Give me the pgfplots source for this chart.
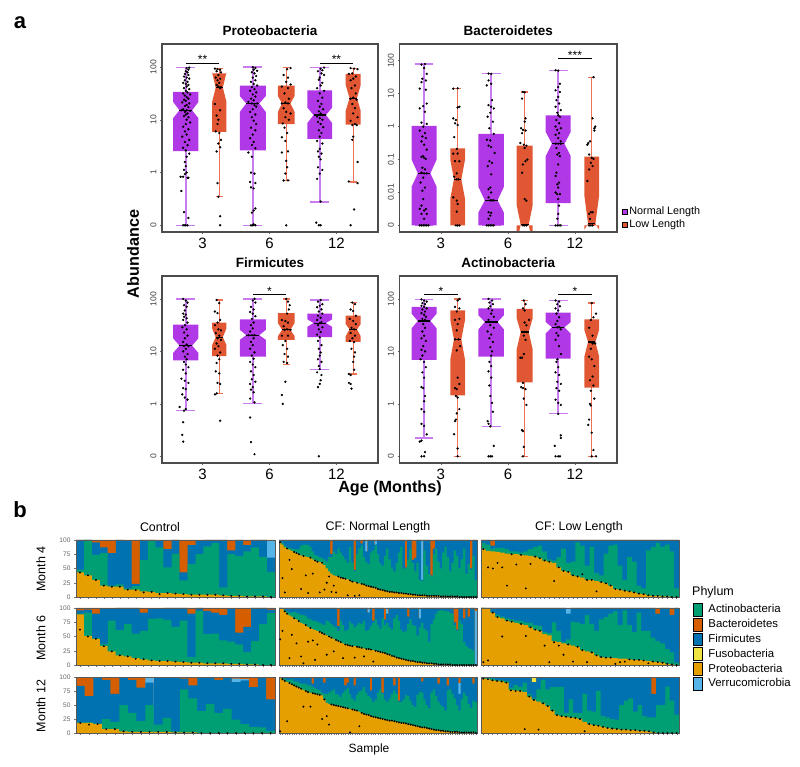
\documentclass[border=0pt]{standalone}
\usepackage{fontspec}
\setmainfont{Liberation Sans}
\usepackage{pgfplots}
\usepackage{pgfplotstable}
\pgfplotsset{compat=1.18}
\definecolor{cP}{HTML}{B138E6}
\definecolor{cO}{HTML}{E15733}
\definecolor{cPw}{HTML}{C97CEF}
\definecolor{cOw}{HTML}{EE7255}
\definecolor{pA}{HTML}{009E73}
\definecolor{pB}{HTML}{D55E00}
\definecolor{pF}{HTML}{0072B2}
\definecolor{pY}{HTML}{F0E442}
\definecolor{pP}{HTML}{E69F00}
\definecolor{pV}{HTML}{56B4E9}
\newcommand\fs[1]{\fontsize{#1}{#1}\selectfont}

% makes a notched box command: name, fill, whisker colour, cap half width, whisker width
% the command takes x, half width, q1, notch low, median, notch high, q3, whisker low, whisker high
\newcommand\mkbox[5]{\expandafter\newcommand\csname #1\endcsname[9]{%
  \pgfmathsetmacro\xL{##1-##2}\pgfmathsetmacro\xR{##1+##2}%
  \pgfmathsetmacro\xl{##1-##2/2}\pgfmathsetmacro\xr{##1+##2/2}%
  \pgfmathsetmacro\cL{##1-#4}\pgfmathsetmacro\cR{##1+#4}%
  \addplot[#3,line width=#5] coordinates {(##1,##8)(##1,##9)};
  \addplot[#3,line width=1.3] coordinates {(\cL,##8)(\cR,##8)};
  \addplot[#3,line width=1.3] coordinates {(\cL,##9)(\cR,##9)};
  \addplot[fill=#2,draw=none] coordinates {(\xL,##7)(\xR,##7)(\xR,##6)(\xr,##5)(\xR,##4)(\xR,##3)(\xL,##3)(\xL,##4)(\xl,##5)(\xL,##6)} --cycle;
  \addplot[black,line width=1.1] coordinates {(\xl,##5)(\xr,##5)};
}}
\mkbox{nbP}{cP}{cPw}{0.14}{2}
\mkbox{nbO}{cO}{cOw}{0.055}{1.3}
\newcommand\sig[4]{\addplot[black,line width=0.6] coordinates {(#1,#3)(#2,#3)} node[pos=0.5,anchor=base,inner sep=0pt,yshift=-1pt,font=\fs{12}] {#4};}
% points were read a little tight around each box centre, so widen the jitter by 1.3
\newcommand\pts[1]{\addplot[only marks,mark=*,mark size=0.95,black,
  x filter/.expression={round(2*(x-.75))/2+.75+1.3*(x-round(2*(x-.75))/2-.75)}] coordinates {#1};}

\pgfplotsset{
  boxax/.style={scale only axis,width=216pt,height=188pt,axis on top,
    xmin=0.395,xmax=3.62,ymin=-1.127,ymax=2.437,
    xtick={1,2,3},xticklabels={3,6,12},
    ytick={-1,0,1,2},yticklabels={0,1,10,100},
    xticklabel style={font=\fs{15}},
    yticklabel style={font=\fs{8.6},rotate=90,anchor=south,text=black!75},
    tick style={black!60,line width=0.5},major tick length=2pt,tick align=outside,
    xtick pos=bottom,ytick pos=left,
    axis line style={black!70,line width=1.1},
    title style={font=\bfseries\fs{13.5},yshift=-1pt}},
  barax/.style={scale only axis,width=198pt,height=57pt,axis on top,
    xmin=0.5,xmax=#1.5,ymin=0,ymax=100,
    xtick={1,...,#1},xticklabels=\empty,
    ytick={0,25,50,75,100},yticklabels={0,25,50,75,100},
    yticklabel style={font=\fs{6.6},text=black!60},
    tick style={black!55,line width=0.4},major tick length=2pt,tick align=outside,
    xtick pos=bottom,ytick pos=left,
    axis line style={black!65,line width=0.9}},
  noy/.style={ytick=\empty},
  lay/.style={ybar,bar shift=0pt,bar width=0.97,draw=none,fill=#1}
}

% every table: dot position, then cumulative tops of proteobacteria, actinobacteria, firmicutes
\pgfplotstableread{
d p a f
43 43 48 100
38 38 100 100
30 30 74 96
20 20 77 87
18 18 20 77
18 18 22 100
13 13 15 98
12 13 19 23
8 10 65 100
9 9 98 100
5 7 87 99
7 7 52 84
6 6 76 100
5 5 29 43
4 4 58 91
4 4 75 98
4 4 89 100
4 4 95 100
3 3 17 100
2 2 75 82
2 2 72 100
1 1 80 91
1 1 87 100
1 1 70 100
0 0 44 69
}\CtrlA
\pgfplotstableread{
d p a f
62 89 90 96
50 51 92 97
46 46 47 90
33 33 37 98
24 24 78 98
17 17 61 100
15 15 72 100
11 12 55 100
10 10 60 92
8 8 81 98
7 7 82 99
7 7 79 100
6 6 67 100
5 5 78 100
4 4 14 90
4 4 95 100
3 3 54 95
3 3 55 92
3 3 43 88
2 2 41 98
2 2 36 57
1 1 23 67
1 1 42 100
0 0 72 100
0 0 91 97
}\CtrlB
\pgfplotstableread{
d p a f
18 18 19 84
15 18 19 66
16 16 17 99
7 7 25 95
7 7 20 70
3 3 50 100
2 2 36 95
2 2 21 81
2 2 50 90
2 2 15 100
2 2 27 100
1 1 3 100
1 1 78 97
1 1 62 85
0 0 39 100
0 0 52 100
0 0 36 95
0 0 43 100
0 0 24 91
0 0 16 94
0 0 11 82
0 0 10 100
0 0 4 60
}\CtrlC
\pgfplotstableread{
d p a f
96 96 97 100
33 92 95 100
8 87 90 100
85 85 88 100
65 83 86 100
49 81 85 100
79 79 84 100
77 77 83 100
75 75 84 100
14 73 90 100
72 72 92 100
38 71 92 100
7 70 91 100
69 69 88 100
41 66 80 100
64 64 74 100
62 62 72 100
8 61 70 100
60 60 68 100
13 56 66 100
25 50 62 100
36 45 70 100
9 41 70 75
20 38 80 100
8 37 75 100
36 36 85 100
34 34 78 100
33 33 72 100
32 32 66 100
3 31 60 100
29 29 88 100
27 27 60 100
2 26 45 47
25 25 75 100
3 24 85 100
23 23 90 94
22 22 70 100
20 20 62 80
19 19 58 100
18 18 78 100
17 17 82 100
16 16 90 92
14 14 75 100
13 13 60 100
12 12 55 100
11 11 72 100
10 10 85 100
9 9 66 100
9 9 52 100
8 8 45 100
8 8 60 100
7 7 78 100
7 7 88 100
6 6 50 100
6 6 50 52
5 5 66 100
5 5 85 100
4 4 60 65
4 4 45 68
3 3 60 100
3 3 30 100
3 3 28 30
3 3 82 100
2 2 55 100
2 2 40 100
2 2 36 38
2 2 75 85
2 2 85 100
2 2 62 100
1 1 50 100
1 1 78 100
1 1 88 100
1 1 70 100
1 1 45 100
1 1 60 100
1 1 82 100
1 1 72 100
0 0 50 100
0 0 66 100
0 0 85 100
0 0 40 100
0 0 58 100
0 0 48 50
0 0 72 100
0 0 30 100
}\NormA
\pgfplotstableread{
d p a f
45 100 100 100
60 98 99 100
94 94 97 100
90 90 94 100
12 87 92 100
53 85 92 100
82 82 93 100
38 80 92 100
77 77 90 100
15 74 88 100
3 72 88 100
70 70 86 100
41 67 82 100
65 65 80 100
43 63 78 100
9 61 78 100
36 60 76 100
58 58 74 100
56 56 72 100
54 54 70 100
18 52 78 100
50 50 76 100
48 48 72 100
24 46 68 100
44 44 66 100
42 42 60 68
40 40 78 100
12 38 70 100
36 36 60 100
35 35 62 100
34 34 76 100
33 33 72 100
13 33 66 100
32 32 70 100
31 31 74 100
30 30 72 100
15 29 78 100
28 28 60 100
28 28 62 92
27 27 68 100
6 26 74 78
25 25 80 100
24 24 70 100
23 23 64 100
22 22 82 100
21 21 70 80
19 19 74 90
18 18 66 100
16 16 62 100
15 15 82 100
13 13 88 100
12 12 78 100
11 11 62 100
10 10 58 100
9 9 60 100
8 8 72 85
7 7 80 100
7 7 70 100
6 6 68 100
5 5 52 100
5 5 66 82
4 4 74 100
4 4 64 100
3 3 60 100
3 3 40 100
3 3 72 100
2 2 80 100
2 2 90 100
1 1 95 100
1 1 96 100
1 1 96 100
1 1 95 100
1 1 94 100
1 1 92 100
0 0 90 100
0 0 70 75
0 0 60 62
0 0 78 100
0 0 72 100
0 0 40 82
0 0 33 100
0 0 30 85
0 0 28 100
0 0 25 100
0 0 0 0
}\NormB
\pgfplotstableread{
d p a f
3 98 99 100
96 96 98 100
93 93 97 100
21 91 95 100
89 89 95 100
87 87 96 100
85 85 92 100
83 83 92 100
81 81 90 100
79 79 88 100
47 77 88 100
75 75 88 100
73 73 85 100
47 72 85 100
71 71 82 88
70 70 80 100
69 69 78 100
68 68 76 100
25 67 72 100
60 60 70 90
30 54 70 100
15 52 72 100
51 51 75 100
50 50 78 100
49 49 70 100
48 48 68 100
47 47 64 100
46 46 72 100
45 45 76 85
44 44 80 90
1 43 70 100
42 42 62 100
41 41 58 85
40 40 68 100
12 38 74 100
36 36 76 100
34 34 82 100
33 33 72 100
32 32 66 100
30 30 62 76
29 29 55 100
28 28 60 100
27 27 72 100
26 26 78 100
25 25 70 72
24 24 60 100
23 23 56 100
22 22 62 100
22 22 70 100
21 21 76 85
20 20 70 100
19 19 55 58
18 18 55 100
18 18 60 100
17 17 68 100
16 16 66 100
15 15 58 100
14 14 50 100
13 13 46 100
12 12 68 100
11 11 74 100
10 10 72 92
10 10 60 100
9 9 50 100
8 8 44 100
7 7 72 100
6 6 78 100
5 5 66 100
5 5 56 88
4 4 50 100
4 4 46 100
3 3 40 100
3 3 76 85
2 2 78 100
2 2 70 100
2 2 62 100
2 2 50 100
1 1 40 70
1 1 60 100
1 1 72 100
1 1 66 100
1 1 52 100
1 1 45 100
1 1 58 88
0 0 55 100
}\NormC
\pgfplotstableread{
d p a f
84 84 95 100
52 81 92 100
50 80 85 90
60 79 86 100
52 78 86 100
20 76 84 100
75 75 80 100
57 75 80 100
74 74 78 100
15 73 80 100
58 72 84 100
71 71 88 100
68 68 90 100
64 64 80 100
62 62 66 100
28 60 64 100
52 52 70 100
46 46 85 100
44 44 60 100
38 38 62 100
36 36 96 100
40 34 90 100
30 30 55 100
30 30 88 100
10 28 42 100
26 26 38 100
24 24 76 100
20 20 90 100
14 14 92 100
13 13 55 100
11 11 30 100
10 10 70 100
8 8 62 100
6 6 20 100
5 5 15 100
3 3 82 100
2 2 88 100
2 2 95 100
1 1 88 100
1 1 92 100
0 0 80 100
0 0 15 100
}\LowA
\pgfplotstableread{
d p a f
5 100 100 100
8 98 98 100
92 92 92 100
84 84 88 100
50 82 85 100
78 78 82 100
76 76 80 100
5 74 78 100
72 72 78 100
51 70 75 100
66 66 74 100
62 62 70 100
60 60 68 100
34 54 58 100
5 52 56 100
40 42 75 100
34 40 60 100
18 38 40 100
36 36 45 90
6 34 76 100
32 32 75 100
26 26 72 100
5 24 88 100
22 22 72 100
17 17 60 100
14 14 80 100
13 13 84 100
13 13 90 100
2 12 94 100
5 11 70 100
6 11 96 100
10 10 70 100
9 9 58 100
9 9 92 100
8 8 60 100
3 7 60 100
6 6 48 100
5 5 42 90
4 4 38 100
2 2 28 100
1 1 22 88
0 0 4 100
}\LowB
\pgfplotstableread{
d p a f
97 97 99 100
96 96 98 100
94 94 97 100
93 93 95 100
92 92 94 100
90 90 93 100
76 77 80 100
75 76 86 100
75 75 82 100
7 73 90 100
65 65 70 100
59 59 62 91
6 56 78 100
53 53 95 100
48 48 78 100
40 40 82 100
32 32 82 100
30 30 82 100
29 29 36 100
28 28 60 100
27 27 36 100
25 25 36 100
3 20 70 100
16 16 40 100
14 14 38 100
13 13 75 100
11 11 30 100
9 9 28 100
8 8 25 100
7 7 24 100
6 6 50 100
6 6 58 100
5 5 62 100
5 5 38 100
4 4 50 100
4 4 30 100
3 3 28 100
1 1 28 70
0 0 50 100
0 0 50 100
0 0 83 100
0 0 58 100
0 0 33 100
}\LowC

% position, number of bars, table, extra layers, axis options
\newcommand\barpanel[5]{%
\begin{axis}[barax={#2},at={#1},anchor=south west,#5]
  \addplot[lay=pB] table[x expr=\coordindex+1,y expr=100] {#3};
  #4
  \addplot[lay=pF] table[x expr=\coordindex+1,y=f] {#3};
  \addplot[lay=pA] table[x expr=\coordindex+1,y=a] {#3};
  \addplot[lay=pP] table[x expr=\coordindex+1,y=p] {#3};
  \addplot[only marks,mark=*,mark size=0.75,black] table[x expr=\coordindex+1,y=d] {#3};
\end{axis}}
\newcommand\V[1]{\addplot[lay=pV] coordinates {#1};}
\newcommand\Y[1]{\addplot[lay=pY] coordinates {#1};}

\begin{document}
\begin{tikzpicture}[x=1pt,y=1pt]
\path[use as bounding box] (0,0) rectangle (800,766);

\begin{axis}[boxax,at={(162pt,534pt)},anchor=south west,title={Proteobacteria}]
\nbP{0.75}{0.189}{0.405}{1.03}{1.18}{1.34}{1.53}{-1}{1.99}
\nbO{1.25}{0.107}{0.77}{1.34}{1.61}{1.90}{1.88}{-0.46}{1.97}
\nbP{1.75}{0.194}{0.42}{1.15}{1.31}{1.45}{1.65}{-1}{2}
\nbO{2.25}{0.124}{0.92}{1.15}{1.31}{1.45}{1.65}{-0.15}{1.99}
\nbP{2.75}{0.184}{0.64}{0.94}{1.09}{1.23}{1.56}{-0.56}{1.99}
\nbO{3.25}{0.112}{0.91}{1.17}{1.41}{1.66}{1.87}{-0.18}{1.97}
\sig{0.75}{1.25}{2.08}{**}
\sig{2.75}{3.25}{2.08}{**}
\pts{(.79,1.99)(.76,1.98)(.78,1.95)(.75,1.92)(.77,1.9)(.74,1.87)(.78,1.85)(.73,1.82)(.76,1.8)(.79,1.78)(.74,1.75)(.77,1.72)(.72,1.7)(.75,1.68)(.78,1.66)(.76,1.63)(.73,1.6)(.79,1.58)(.75,1.55)(.77,1.52)(.72,1.5)(.8,1.48)(.74,1.46)(.76,1.43)(.78,1.4)(.73,1.38)(.75,1.36)(.71,1.33)(.79,1.31)(.76,1.28)(.74,1.26)(.78,1.24)(.72,1.2)(.76,1.18)(.8,1.17)(.74,1.15)(.7,1.18)(.77,1.12)(.75,1.1)(.73,1.07)(.78,1.05)(.76,1.0)(.8,.95)(.75,.92)(.72,.87)(.78,.82)(.74,.78)(.76,.72)(.71,.68)(.79,.62)(.74,.58)(.77,.52)(.72,.47)(.75,.42)(.79,.36)(.76,.3)(.74,.2)(.75,.12)(.73,.05)(.76,0)(.74,-.03)(.72,-.08)(.77,-.1)(.69,-.08)(.78,-.1)(.7,-.35)(.73,-.75)(.78,-.86)(.72,-1)(.74,-1)(.75,-1)(.77,-1)
(1.2,1.97)(1.23,1.96)(1.26,1.95)(1.22,1.92)(1.27,1.9)(1.24,1.85)(1.21,1.8)(1.26,1.78)(1.23,1.75)(1.25,1.7)(1.22,1.66)(1.24,1.63)(1.27,1.62)(1.26,1.6)(1.2,1.3)(1.26,1.18)(1.22,1.08)(1.24,1.0)(1.23,.92)(1.21,.78)(1.25,.75)(1.27,.62)(1.24,.55)(1.26,.48)(1.22,.4)(1.23,-.2)(1.24,-.46)(1.26,-.83)(1.26,-1)
(1.75,2)(1.78,1.98)(1.76,1.95)(1.8,1.93)(1.74,1.9)(1.77,1.88)(1.79,1.83)(1.75,1.8)(1.78,1.75)(1.73,1.72)(1.76,1.68)(1.8,1.65)(1.74,1.62)(1.77,1.58)(1.72,1.55)(1.79,1.52)(1.75,1.48)(1.78,1.44)(1.73,1.4)(1.76,1.37)(1.7,1.34)(1.74,1.31)(1.8,1.31)(1.77,1.28)(1.79,1.25)(1.75,1.2)(1.72,1.15)(1.78,1.1)(1.74,1.05)(1.76,.98)(1.79,.92)(1.73,.85)(1.78,.8)(1.75,.72)(1.72,.65)(1.76,.58)(1.74,.52)(1.78,.46)(1.7,.38)(1.74,.3)(1.73,0)(1.77,-.02)(1.72,-.18)(1.78,-.2)(1.73,-.28)(1.76,-.3)(1.78,-.68)(1.76,-.72)(1.74,-.76)(1.73,-1)(1.75,-1)(1.76,-.98)(1.78,-1)
(2.3,1.98)(2.26,1.96)(2.22,1.85)(2.27,1.8)(2.25,1.72)(2.3,1.67)(2.2,1.63)(2.27,1.6)(2.23,1.5)(2.28,1.4)(2.24,1.33)(2.2,1.31)(2.27,1.31)(2.22,1.22)(2.25,1.15)(2.3,1.12)(2.24,1.05)(2.28,1.0)(2.21,.93)(2.23,.85)(2.26,.75)(2.2,.67)(2.24,.6)(2.27,.4)(2.2,.38)(2.25,.22)(2.26,.1)(2.24,-.02)(2.27,-.15)(2.22,-.15)(2.25,-1)
(2.8,1.99)(2.76,1.97)(2.78,1.94)(2.73,1.92)(2.77,1.88)(2.8,1.85)(2.75,1.8)(2.74,1.76)(2.78,1.7)(2.76,1.65)(2.72,1.6)(2.8,1.55)(2.75,1.5)(2.78,1.42)(2.73,1.36)(2.77,1.3)(2.75,1.25)(2.79,1.2)(2.74,1.16)(2.76,1.12)(2.78,1.09)(2.72,1.06)(2.75,1.03)(2.78,1)(2.73,.96)(2.76,.92)(2.79,.86)(2.74,.8)(2.77,.75)(2.75,.68)(2.72,.6)(2.78,.55)(2.75,.45)(2.73,.4)(2.77,.36)(2.74,.3)(2.76,.25)(2.73,.1)(2.78,.05)(2.75,-.02)(2.72,-.12)(2.76,-.55)(2.71,-.95)(2.74,-1)(2.76,-1)
(3.22,1.98)(3.26,1.97)(3.3,1.96)(3.24,1.88)(3.2,1.87)(3.28,1.82)(3.25,1.78)(3.22,1.75)(3.27,1.65)(3.23,1.6)(3.28,1.5)(3.25,1.42)(3.22,1.4)(3.29,1.38)(3.24,1.3)(3.27,1.22)(3.25,1.12)(3.3,1.05)(3.22,.98)(3.27,.92)(3.24,.9)(3.29,.9)(3.25,.68)(3.24,.62)(3.3,.2)(3.2,-.17)(3.3,-.2)(3.26,-.7)(3.22,-1)}
\end{axis}

\begin{axis}[boxax,at={(399.5pt,534pt)},anchor=south west,width=217.5pt,title={Bacteroidetes},
  xmin=0.383,xmax=3.627,ymin=-3.2,ymax=2.507,ytick={-3,-2,-1,0,1,2},yticklabels={0,0.01,0.1,1,10,100}]
\nbP{0.75}{0.187}{-3}{-1.83}{-1.42}{-1.0}{0.02}{-3}{1.9}
\nbO{1.25}{0.11}{-3}{-2.19}{-1.6}{-1.0}{-0.66}{-3}{1.16}
\nbP{1.75}{0.19}{-3}{-2.61}{-2.24}{-1.83}{-0.22}{-3}{1.61}
\nbO{2.25}{0.119}{-3}{-3.54}{-2.98}{-2.39}{-0.58}{-3}{1.05}
\nbP{2.75}{0.187}{-2.32}{-0.9}{-0.52}{-0.16}{0.34}{-3}{1.71}
\nbO{3.25}{0.11}{-3}{-3.13}{-2.95}{-2.09}{-0.91}{-3}{1.5}
\sig{2.75}{3.25}{2.08}{***}
\pts{(.76,1.9)(.72,1.88)(.75,1.78)(.78,1.6)(.73,1.45)(.77,1.4)(.72,1.35)(.7,1.15)(.77,1.12)(.78,.7)(.74,.62)(.7,.55)(.76,.45)(.72,.12)(.78,.08)(.74,0)(.7,-.12)(.76,-.2)(.73,-.3)(.77,-.35)(.72,-.45)(.75,-.55)(.78,-.7)(.74,-.9)(.72,-.92)(.75,-.95)(.77,-.98)(.73,-1.25)(.76,-1.3)(.72,-1.4)(.75,-1.42)(.78,-1.42)(.74,-1.55)(.71,-1.7)(.76,-1.85)(.73,-1.95)(.74,-2.2)(.72,-2.4)(.77,-2.5)(.7,-2.5)(.75,-2.55)(.72,-2.65)(.78,-2.65)(.75,-2.8)(.7,-3)(.72,-3)(.74,-3)(.76,-3)(.78,-3)(.8,-3)
(1.2,1.15)(1.25,1.16)(1.27,.6)(1.25,.58)(1.2,.25)(1.23,.2)(1.22,.1)(1.25,.05)(1.21,-.32)(1.24,-.68)(1.2,-.82)(1.25,-.82)(1.27,-1.05)(1.22,-1.05)(1.24,-1.42)(1.21,-1.52)(1.24,-1.6)(1.26,-1.6)(1.2,-2.15)(1.24,-2.25)(1.25,-2.35)(1.24,-2.58)(1.23,-3)(1.25,-3)(1.27,-3)
(1.72,1.61)(1.75,1.6)(1.72,1.4)(1.75,1.3)(1.7,1.25)(1.76,.8)(1.72,.65)(1.75,.6)(1.78,.55)(1.74,.42)(1.71,.3)(1.77,.15)(1.73,-.05)(1.78,-.22)(1.7,-.4)(1.74,-.42)(1.72,-.58)(1.75,-.62)(1.79,-.8)(1.73,-1.05)(1.76,-1.1)(1.71,-1.2)(1.75,-1.45)(1.74,-1.85)(1.72,-1.9)(1.75,-2)(1.72,-2.15)(1.74,-2.24)(1.76,-2.24)(1.78,-2.24)(1.72,-2.6)(1.75,-2.62)(1.74,-2.7)(1.72,-2.8)(1.7,-3)(1.72,-3)(1.74,-3)(1.76,-3)(1.78,-3)
(2.23,1.05)(2.25,1.04)(2.22,.85)(2.26,.25)(2.25,.15)(2.21,-.05)(2.23,-.1)(2.26,-.12)(2.22,-.2)(2.2,-.5)(2.24,-.55)(2.27,-.58)(2.25,-.65)(2.28,-1)(2.26,-1.05)(2.23,-1.15)(2.22,-1.4)(2.25,-2.2)(2.27,-2.25)(2.23,-3)(2.25,-3)(2.27,-3)
(2.72,1.71)(2.75,1.7)(2.77,1.3)(2.75,1.2)(2.72,1.1)(2.77,1.05)(2.75,.9)(2.73,.8)(2.76,.7)(2.72,.6)(2.78,.5)(2.74,.42)(2.75,.34)(2.77,.3)(2.73,.2)(2.76,.1)(2.72,0)(2.78,-.05)(2.74,-.1)(2.76,-.2)(2.72,-.25)(2.75,-.35)(2.78,-.45)(2.72,-.52)(2.75,-.52)(2.78,-.52)(2.73,-.65)(2.76,-.8)(2.74,-.85)(2.77,-.9)(2.75,-1.15)(2.73,-1.4)(2.72,-1.5)(2.76,-1.7)(2.74,-1.75)(2.75,-1.85)(2.72,-2.0)(2.74,-2.05)(2.77,-2.05)(2.75,-2.2)(2.76,-2.4)(2.75,-2.65)(2.74,-2.8)(2.72,-3)(2.74,-3)(2.76,-3)(2.78,-3)
(3.27,1.5)(3.26,.25)(3.29,0)(3.28,-.05)(3.28,-.12)(3.23,-.45)(3.21,-.5)(3.2,-.55)(3.22,-.85)(3.25,-.95)(3.27,-.98)(3.24,-1.1)(3.26,-1.2)(3.22,-1.3)(3.2,-1.65)(3.24,-2.6)(3.26,-2.6)(3.22,-2.65)(3.23,-2.8)(3.22,-3)(3.24,-3)(3.26,-3)}
\end{axis}

\begin{axis}[boxax,at={(162pt,303pt)},anchor=south west,height=187pt,title={Firmicutes}]
\nbP{0.75}{0.189}{0.83}{0.97}{1.11}{1.25}{1.51}{-0.13}{2}
\nbO{1.25}{0.107}{0.91}{1.12}{1.27}{1.44}{1.55}{0.2}{1.98}
\nbP{1.75}{0.194}{0.9}{1.22}{1.31}{1.41}{1.61}{0.01}{2}
\nbO{2.25}{0.124}{1.22}{1.29}{1.41}{1.54}{1.73}{0.75}{2}
\nbP{2.75}{0.184}{1.27}{1.47}{1.54}{1.61}{1.72}{0.66}{1.98}
\nbO{3.25}{0.112}{1.18}{1.29}{1.42}{1.52}{1.68}{0.57}{1.93}
\sig{1.75}{2.25}{2.08}{*}
\pts{(.72,2)(.75,1.97)(.77,1.93)(.73,1.88)(.76,1.85)(.74,1.78)(.72,1.72)(.75,1.7)(.73,1.66)(.76,1.63)(.72,1.6)(.77,1.55)(.74,1.5)(.71,1.46)(.76,1.42)(.73,1.36)(.77,1.3)(.74,1.25)(.72,1.18)(.76,1.13)(.73,1.1)(.78,1.1)(.75,1.05)(.72,1)(.77,.95)(.74,.9)(.76,.85)(.73,.8)(.75,.75)(.78,.7)(.72,.65)(.75,.58)(.7,.48)(.74,.44)(.78,.4)(.72,.3)(.75,.28)(.71,.18)(.74,.12)(.77,.08)(.68,-.06)(.75,-.1)(.73,-.13)(.72,-.35)(.71,-.59)(.72,-.72)
(1.22,1.98)(1.25,1.92)(1.2,1.76)(1.23,1.73)(1.26,1.6)(1.23,1.55)(1.2,1.5)(1.24,1.42)(1.27,1.4)(1.21,1.35)(1.25,1.3)(1.23,1.25)(1.27,1.22)(1.22,1.15)(1.24,1.1)(1.2,1.05)(1.26,.98)(1.23,.92)(1.25,.85)(1.22,.78)(1.21,.62)(1.25,.58)(1.23,.4)(1.26,.38)(1.22,.2)(1.2,.18)(1.26,-.32)
(1.77,2)(1.75,1.97)(1.78,1.93)(1.73,1.85)(1.76,1.8)(1.72,1.75)(1.75,1.72)(1.78,1.67)(1.74,1.62)(1.76,1.55)(1.73,1.5)(1.75,1.44)(1.72,1.38)(1.77,1.31)(1.74,1.31)(1.7,1.31)(1.76,1.25)(1.73,1.18)(1.75,1.12)(1.72,1.05)(1.77,.98)(1.74,.92)(1.76,.86)(1.72,.8)(1.75,.75)(1.78,.7)(1.73,.62)(1.76,.55)(1.74,.47)(1.78,.42)(1.72,.38)(1.75,.32)(1.73,.27)(1.76,.22)(1.72,.1)(1.77,.03)(1.72,-.26)(1.73,-.73)(1.77,-.96)
(2.25,2)(2.27,1.95)(2.29,1.88)(2.28,1.8)(2.26,1.72)(2.2,1.6)(2.24,1.58)(2.27,1.55)(2.22,1.48)(2.26,1.42)(2.3,1.41)(2.23,1.41)(2.2,1.3)(2.27,1.3)(2.24,1.2)(2.21,1.12)(2.26,1.05)(2.23,.95)(2.27,.9)(2.22,.8)(2.26,.78)(2.24,.42)(2.2,.17)(2.21,.0)
(2.76,1.98)(2.73,1.95)(2.78,1.9)(2.75,1.87)(2.72,1.84)(2.77,1.8)(2.74,1.76)(2.78,1.72)(2.73,1.68)(2.76,1.64)(2.72,1.6)(2.77,1.56)(2.75,1.54)(2.73,1.5)(2.78,1.46)(2.74,1.42)(2.76,1.37)(2.72,1.32)(2.75,1.27)(2.73,1.2)(2.77,1.12)(2.74,1.05)(2.76,.98)(2.75,.92)(2.73,.85)(2.77,.8)(2.74,.72)(2.75,.66)(2.72,.6)(2.77,.55)(2.76,.45)(2.75,.38)(2.73,.32)(2.74,-1)
(3.24,1.93)(3.27,1.9)(3.22,1.8)(3.25,1.77)(3.28,1.68)(3.21,1.62)(3.25,1.58)(3.28,1.52)(3.23,1.45)(3.26,1.42)(3.22,1.35)(3.27,1.3)(3.24,1.25)(3.21,1.2)(3.26,1.18)(3.23,1.05)(3.27,.98)(3.26,.9)(3.25,.8)(3.26,.65)(3.2,.57)(3.22,.55)(3.2,.4)(3.22,.38)(3.23,.29)}
\end{axis}

\begin{axis}[boxax,at={(399.5pt,303pt)},anchor=south west,width=217.5pt,height=187pt,title={Actinobacteria},
  xmin=0.383,xmax=3.627]
\nbP{0.75}{0.187}{0.84}{1.44}{1.58}{1.72}{1.85}{-0.65}{1.99}
\nbO{1.25}{0.11}{0.16}{0.84}{1.23}{1.6}{1.78}{-1}{2}
\nbP{1.75}{0.19}{0.9}{1.42}{1.56}{1.69}{1.82}{-0.43}{2}
\nbO{2.25}{0.119}{0.41}{1.04}{1.37}{1.63}{1.81}{-1}{1.97}
\nbP{2.75}{0.187}{0.86}{1.34}{1.46}{1.56}{1.74}{-0.19}{1.97}
\nbO{3.25}{0.11}{0.31}{0.9}{1.18}{1.41}{1.61}{-1}{1.92}
\sig{0.75}{1.25}{2.08}{*}
\sig{2.75}{3.25}{2.08}{*}
\pts{(.72,1.99)(.75,1.97)(.78,1.95)(.73,1.92)(.76,1.9)(.72,1.87)(.75,1.85)(.78,1.82)(.73,1.8)(.76,1.76)(.72,1.73)(.75,1.7)(.77,1.66)(.73,1.62)(.76,1.6)(.71,1.58)(.78,1.58)(.74,1.52)(.76,1.45)(.73,1.38)(.75,1.3)(.72,1.25)(.77,1.2)(.74,1.1)(.72,1.03)(.76,1)(.73,.92)(.71,.85)(.75,.8)(.77,.7)(.73,.6)(.75,.5)(.72,.32)(.74,.3)(.76,.15)(.75,.05)(.72,-.1)(.75,-.15)(.72,-.38)(.75,-.42)(.78,-.58)(.72,-.7)(.7,-.72)(.76,-.92)(.72,-1)(.75,-1)
(1.27,2)(1.25,1.97)(1.22,1.85)(1.27,1.82)(1.24,1.76)(1.22,1.6)(1.27,1.62)(1.25,1.52)(1.24,1.4)(1.22,1.23)(1.26,1.23)(1.28,1.1)(1.24,1.02)(1.25,.5)(1.27,.38)(1.22,.3)(1.24,.28)(1.23,.15)(1.25,.12)(1.27,-.1)(1.24,-.18)(1.23,-.3)(1.22,-.33)(1.21,-.58)(1.25,-.85)(1.25,-1)
(1.72,2)(1.76,1.97)(1.73,1.93)(1.77,1.9)(1.74,1.86)(1.72,1.82)(1.76,1.78)(1.75,1.72)(1.78,1.66)(1.72,1.6)(1.76,1.56)(1.74,1.5)(1.78,1.45)(1.71,1.38)(1.75,1.32)(1.73,1.25)(1.77,1.18)(1.74,1.08)(1.76,1)(1.75,.92)(1.73,.8)(1.75,.72)(1.72,.62)(1.75,.5)(1.73,.35)(1.74,.15)(1.76,.02)(1.77,-.15)(1.71,-.33)(1.72,-.38)(1.74,-.43)(1.78,-.8)(1.72,-1)(1.74,-1)(1.76,-1)
(2.24,1.97)(2.26,1.9)(2.23,1.82)(2.25,1.78)(2.3,1.6)(2.25,1.55)(2.27,1.5)(2.22,1.37)(2.25,1.37)(2.27,1.37)(2.24,1.3)(2.26,1.22)(2.24,.95)(2.22,.88)(2.2,.88)(2.23,.4)(2.21,.32)(2.23,.3)(2.26,.28)(2.24,.1)(2.27,-.02)(2.22,-.5)(2.23,-.52)(2.24,-.82)(2.23,-1)
(2.72,1.97)(2.76,1.95)(2.74,1.9)(2.77,1.86)(2.72,1.82)(2.75,1.78)(2.73,1.72)(2.76,1.65)(2.74,1.58)(2.72,1.52)(2.76,1.46)(2.74,1.46)(2.78,1.42)(2.73,1.35)(2.75,1.3)(2.72,1.22)(2.76,1.1)(2.78,.95)(2.74,.85)(2.73,.8)(2.75,.7)(2.72,.6)(2.76,.55)(2.74,.42)(2.78,.38)(2.73,.3)(2.76,.25)(2.72,.08)(2.75,.02)(2.78,-.02)(2.75,-.19)(2.78,-.6)(2.78,-.65)(2.71,-.8)(2.72,-1)(2.75,-1)(2.77,-1)
(3.25,1.92)(3.3,1.72)(3.27,1.65)(3.24,1.6)(3.22,1.45)(3.26,1.3)(3.22,1.18)(3.26,1.15)(3.29,1.15)(3.24,1.05)(3.22,.9)(3.25,.85)(3.28,.72)(3.26,.52)(3.23,.45)(3.27,.35)(3.24,.25)(3.28,.1)(3.23,0)(3.24,-.03)(3.22,-.3)(3.21,-.4)(3.25,-.55)(3.27,-.88)(3.25,-1)(3.3,-1)}
\end{axis}

\barpanel{(76pt,169pt)}{25}{\CtrlA}{\V{(25,100)}}{width=199pt}
\barpanel{(76pt,101pt)}{25}{\CtrlB}{}{width=199pt}
\barpanel{(76pt,33pt)}{23}{\CtrlC}{\V{(9,98)(19,97)(20,96)}}{width=199pt,height=56pt}
\barpanel{(279pt,169pt)}{85}{\NormA}{\V{(38,100)(42,100)(62,100)}}{noy}
\barpanel{(279pt,101pt)}{85}{\NormB}{\V{(39,100)(47,100)(61,100)(85,95)}}{noy}
\barpanel{(279pt,33pt)}{85}{\NormC}{\V{(78,90)}}{noy,height=56pt}
\barpanel{(481pt,169pt)}{42}{\LowA}{}{noy}
\barpanel{(481pt,101pt)}{42}{\LowB}{\V{(19,100)}}{noy}
\barpanel{(481pt,33pt)}{43}{\LowC}{\V{(9,98)}\Y{(12,99)}}{noy,height=56pt}

% legends
\pgfplotsset{swatch/.style={hide axis,scale only axis,width=10pt,height=10pt,xmin=0,xmax=1,ymin=0,ymax=1,anchor=south west}}
\begin{axis}[swatch,at={(622pt,543pt)},
  legend image code/.code={\fill[#1] (0pt,-2.6pt) rectangle (5pt,2.6pt);\path (7pt,0pt);},
  legend cell align=left,
  legend style={at={(0,0.5)},anchor=west,draw=none,fill=none,inner sep=0pt,outer sep=0pt,row sep=2.5pt,
    font=\fs{10.8},nodes={inner sep=0pt,text height=8pt,text depth=2.5pt}}]
\addlegendimage{fill=cP}\addlegendimage{fill=cO}
\legend{Normal Length,Low Length}
\end{axis}
\begin{axis}[swatch,at={(693pt,114.5pt)},
  legend image code/.code={\fill[#1] (0pt,-6.4pt) rectangle (8.7pt,6.4pt);\path (15pt,0pt);},
  legend cell align=left,
  legend style={at={(0,0.5)},anchor=west,draw=none,fill=none,inner sep=0pt,outer sep=0pt,row sep=1.6pt,
    font=\fs{11.4},nodes={inner sep=0pt,text height=9.8pt,text depth=3pt}}]
\addlegendimage{fill=pA}\addlegendimage{fill=pB}\addlegendimage{fill=pF}\addlegendimage{fill=pY}\addlegendimage{fill=pP}\addlegendimage{fill=pV}
\legend{Actinobacteria,Bacteroidetes,Firmicutes,Fusobacteria,Proteobacteria,Verrucomicrobia}
\end{axis}

% free text
\node[font=\bfseries\fs{22}] at (20,743) {a};
\node[font=\bfseries\fs{22}] at (20,256) {b};
\node[font=\bfseries\fs{16.2},rotate=90] at (133,512) {Abundance};
\node[font=\bfseries\fs{16.2}] at (390,277.5) {Age (Months)};
\node[font=\fs{12.4}] at (160,239) {Control};
\node[font=\fs{12.4}] at (378,239) {CF: Normal Length};
\node[font=\fs{12.4}] at (579,239) {CF: Low Length};
\node[font=\fs{12.5},rotate=90] at (41,197) {Month 4};
\node[font=\fs{12.5},rotate=90] at (41,128) {Month 6};
\node[font=\fs{12.5},rotate=90] at (41,60) {Month 12};
\node[font=\fs{12}] at (369,17) {Sample};
\node[font=\fs{12.5},anchor=west,inner sep=0pt] at (692,174) {Phylum};
\end{tikzpicture}
\end{document}
